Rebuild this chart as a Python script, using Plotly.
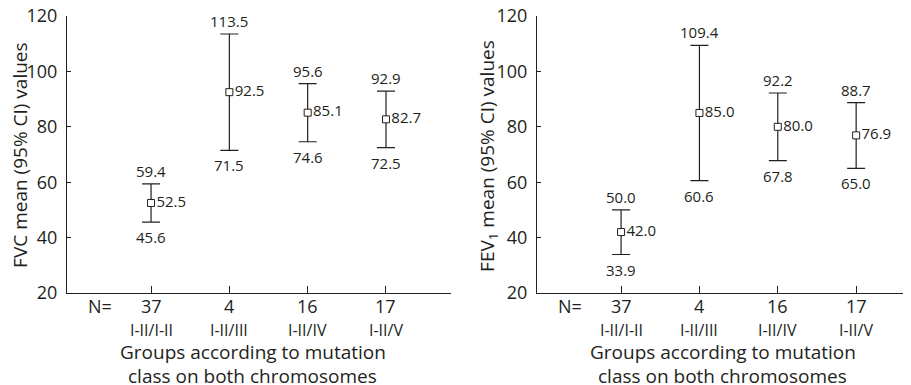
import plotly.graph_objects as go

groups = ["I-II/I-II", "I-II/III", "I-II/IV", "I-II/V"]
n_counts = ["37", "4", "16", "17"]
fvc_mean = [52.5, 92.5, 85.1, 82.7]
fvc_low = [45.6, 71.5, 74.6, 72.5]
fvc_high = [59.4, 113.5, 95.6, 92.9]
fev_mean = [42.0, 85.0, 80.0, 76.9]
fev_low = [33.9, 60.6, 67.8, 65.0]
fev_high = [50.0, 109.4, 92.2, 88.7]
yticks = [20, 40, 60, 80, 100, 120]

FONT = "Open Sans"
INK = "#231f20"
xpos = [1, 2, 3, 4]

# page body has an 8px default margin, so the figure is 8px smaller than the window
W, H = 903, 377

fig = go.Figure()
anns = []

panels = [
    ("x", "y", fvc_mean, fvc_low, fvc_high, "FVC mean (95% CI) values", 12),
    ("x2", "y2", fev_mean, fev_low, fev_high, "FEV<sub>1</sub> mean (95% CI) values", 480),
]

for xa, ya, mean, low, high, ytitle, tx in panels:
    fig.add_trace(go.Scatter(
        x=xpos, y=mean, xaxis=xa, yaxis=ya, mode="markers+text",
        marker=dict(symbol="square", size=7, color="white", line=dict(color=INK, width=1)),
        text=[f"{v:.1f}" for v in mean], textposition="middle right",
        textfont=dict(family=FONT, size=15, color=INK),
        error_y=dict(type="data", symmetric=False,
                     array=[h - m for h, m in zip(high, mean)],
                     arrayminus=[m - l for m, l in zip(mean, low)],
                     color=INK, thickness=1.2, width=9),
        showlegend=False, cliponaxis=False,
    ))
    for x, h, l in zip(xpos, high, low):
        anns.append(dict(x=x, y=h, xref=xa, yref=ya, text=f"{h:.1f}", showarrow=False,
                         yanchor="bottom", yshift=1,
                         font=dict(family=FONT, size=15, color=INK)))
        anns.append(dict(x=x, y=l, xref=xa, yref=ya, text=f"{l:.1f}", showarrow=False,
                         yanchor="top", yshift=-3,
                         font=dict(family=FONT, size=15, color=INK)))
    yp = "paper"
    for x, n, g in zip(xpos, n_counts, groups):
        anns.append(dict(x=x, y=-0.047, xref=xa, yref=yp, text=n, showarrow=False,
                         yanchor="middle", font=dict(family=FONT, size=18, color=INK)))
        anns.append(dict(x=x, y=-0.134, xref=xa, yref=yp, text=g, showarrow=False,
                         yanchor="middle", font=dict(family=FONT, size=16, color=INK)))
    anns.append(dict(x=0.35, y=-0.047, xref=xa, yref=yp, text="N=", showarrow=False,
                     yanchor="middle", font=dict(family=FONT, size=18, color=INK)))
    anns.append(dict(x=2.3, y=-0.214, xref=xa, yref=yp, borderpad=0,
                     text="Groups according to mutation",
                     showarrow=False, yanchor="middle",
                     font=dict(family=FONT, size=19, color=INK)))
    anns.append(dict(x=2.3, y=-0.300, xref=xa, yref=yp, borderpad=0,
                     text="class on both chromosomes",
                     showarrow=False, yanchor="middle",
                     font=dict(family=FONT, size=19, color=INK)))
    anns.append(dict(x=tx / W, y=0.495, xref="paper", yref="paper", text=ytitle, borderpad=0,
                     textangle=-90, showarrow=False, xanchor="center", yanchor="middle",
                     font=dict(family=FONT, size=19, color=INK)))

axis_common = dict(showline=True, linecolor=INK, linewidth=1.2, ticks="inside",
                   tickcolor=INK, showgrid=False, zeroline=False, automargin=False)

fig.update_layout(
    width=W, height=H, margin=dict(l=0, r=0, t=8, b=92, autoexpand=False),
    paper_bgcolor="white", plot_bgcolor="white",
    font=dict(family=FONT, color=INK),
    xaxis=dict(domain=[59 / W, 443 / W], range=[-0.073, 4.83], tickvals=xpos,
               showticklabels=False, ticklen=7, **axis_common),
    xaxis2=dict(domain=[529 / W, 1.0], range=[-0.073, 4.7], tickvals=xpos,
                showticklabels=False, ticklen=7, anchor="y2", **axis_common),
    yaxis=dict(range=[20, 120], tickvals=yticks, ticklen=4, ticklabelstandoff=5,
               ticklabeloverflow="allow",
               tickfont=dict(family=FONT, size=18, color=INK), **axis_common),
    yaxis2=dict(range=[20, 120], tickvals=yticks, ticklen=4, ticklabelstandoff=5, anchor="x2",
                ticklabeloverflow="allow",
                tickfont=dict(family=FONT, size=18, color=INK), **axis_common),
    annotations=anns,
)

fig.write_html("out.html")
